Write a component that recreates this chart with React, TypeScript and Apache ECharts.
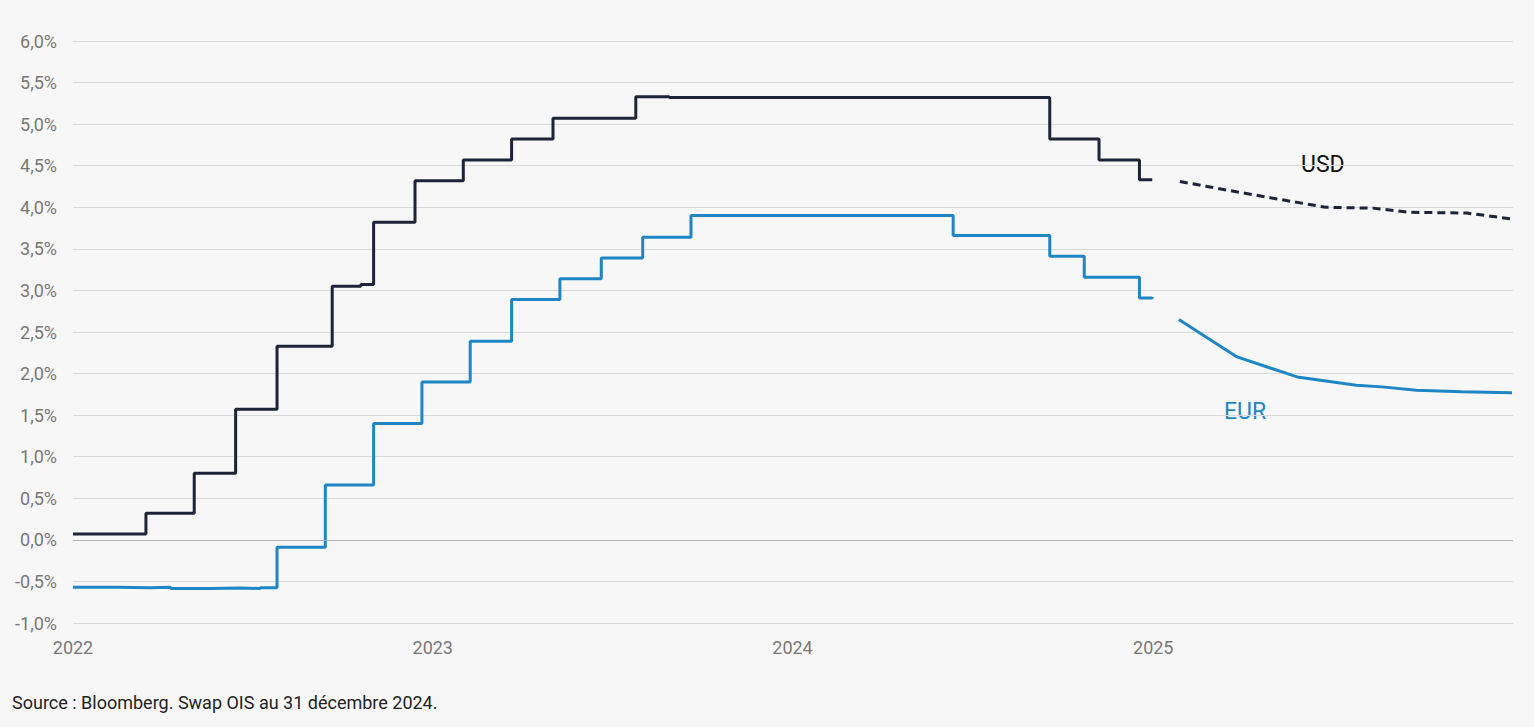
import React, { useEffect, useRef } from "react";
import * as echarts from "echarts";

// Historical policy-rate proxies (step changes), percent
const usdHistDates = [
  "2022-01-01", "2022-03-16", "2022-05-04", "2022-06-15", "2022-07-27", "2022-09-21",
  "2022-10-20", "2022-11-02", "2022-12-14", "2023-02-01", "2023-03-22", "2023-05-03",
  "2023-07-26", "2023-08-29", "2024-09-18", "2024-11-07", "2024-12-18", "2024-12-31",
];
const usdHistValues = [
  0.07, 0.32, 0.80, 1.57, 2.33, 3.05,
  3.07, 3.82, 4.32, 4.57, 4.82, 5.07,
  5.33, 5.32, 4.82, 4.57, 4.33, 4.33,
];

const eurHistDates = [
  "2022-01-01", "2022-02-15", "2022-03-20", "2022-04-10", "2022-05-20", "2022-06-20",
  "2022-07-10", "2022-07-27", "2022-09-14", "2022-11-02", "2022-12-21", "2023-02-08",
  "2023-03-22", "2023-05-10", "2023-06-21", "2023-08-02", "2023-09-20", "2024-06-12",
  "2024-09-18", "2024-10-23", "2024-12-18", "2024-12-31",
];
const eurHistValues = [
  -0.57, -0.575, -0.57, -0.585, -0.58, -0.585,
  -0.575, -0.09, 0.66, 1.40, 1.90, 2.39,
  2.89, 3.14, 3.39, 3.64, 3.90, 3.66,
  3.41, 3.16, 2.91, 2.92,
];

// OIS swap-implied forward path (from 31 Dec 2024)
const usdFwdDates = [
  "2025-01-28", "2025-03-20", "2025-05-07", "2025-06-25", "2025-08-12",
  "2025-09-17", "2025-11-15", "2025-12-31",
];
const usdFwdValues = [4.31, 4.20, 4.10, 4.00, 3.99, 3.94, 3.93, 3.86];

const eurFwdDates = [
  "2025-01-27", "2025-03-27", "2025-05-27", "2025-07-26", "2025-08-21",
  "2025-09-25", "2025-11-10", "2025-12-31",
];
const eurFwdValues = [2.65, 2.20, 1.96, 1.86, 1.84, 1.80, 1.78, 1.77];

const yearTicks = ["2022-01-01", "2023-01-01", "2024-01-01", "2025-01-01"];

const USD_COLOR = "#1e2438";
const EUR_COLOR = "#1f86c6";

const ts = (d: string) => {
  const [y, m, dd] = d.split("-").map(Number);
  return Date.UTC(y, m - 1, dd);
};
const zip = (ds: string[], vs: number[]) => ds.map((d, i) => [ts(d), vs[i]]);

export default function App() {
  const ref = useRef<HTMLDivElement>(null);
  useEffect(() => {
    if (!ref.current) return;
    const chart = echarts.init(ref.current, null, { renderer: "svg" });
    chart.setOption({
      animation: false,
      backgroundColor: "#f7f7f7",
      grid: { left: 73, right: 21, top: 41, bottom: 104, containLabel: false },
      xAxis: {
        type: "value",
        min: ts("2022-01-01"),
        max: ts("2026-01-01"),
        axisLine: { show: false, onZero: false },
        axisTick: { show: false },
        splitLine: { show: false },
        axisLabel: {
          customValues: yearTicks.map(ts),
          formatter: (v: number) => String(new Date(v).getUTCFullYear()),
          color: "#777777",
          fontFamily: "Roboto",
          fontSize: 18,
          margin: 15,
        },
      },
      yAxis: {
        type: "value",
        min: -1,
        max: 6,
        interval: 0.5,
        axisLine: { show: false },
        axisTick: { show: false },
        splitLine: { lineStyle: { color: "#d9d9d9", width: 1 } },
        axisLabel: {
          formatter: (v: number) => v.toFixed(1).replace(".", ",") + "%",
          color: "#777777",
          fontFamily: "Roboto",
          fontSize: 18,
          margin: 16,
        },
      },
      series: [
        {
          name: "USD hist",
          type: "line",
          step: "end",
          data: zip(usdHistDates, usdHistValues),
          showSymbol: false,
          lineStyle: { color: USD_COLOR, width: 3 },
          markLine: {
            silent: true,
            symbol: "none",
            label: { show: false },
            lineStyle: { color: "#b3b3b3", width: 1, type: "solid" },
            data: [{ yAxis: 0 }],
          },
          z: 3,
        },
        {
          name: "EUR hist",
          type: "line",
          step: "end",
          data: zip(eurHistDates, eurHistValues),
          showSymbol: false,
          lineStyle: { color: EUR_COLOR, width: 3 },
          z: 3,
        },
        {
          name: "USD fwd",
          type: "line",
          data: zip(usdFwdDates, usdFwdValues),
          showSymbol: false,
          lineStyle: { color: USD_COLOR, width: 3, type: [8, 5] },
          z: 3,
        },
        {
          name: "EUR fwd",
          type: "line",
          data: zip(eurFwdDates, eurFwdValues),
          showSymbol: false,
          lineStyle: { color: EUR_COLOR, width: 3 },
          z: 3,
        },
      ],
      graphic: [
        {
          type: "text",
          left: 1301,
          top: 153,
          style: { text: "USD", fill: "#111111", font: "23px Roboto" },
        },
        {
          type: "text",
          left: 1224,
          top: 400,
          style: { text: "EUR", fill: EUR_COLOR, font: "23px Roboto" },
        },
        {
          type: "text",
          left: 12,
          top: 693,
          style: {
            text: "Source : Bloomberg. Swap OIS au 31 décembre 2024.",
            fill: "#222222",
            font: "18px Roboto",
          },
        },
      ],
    });
    return () => chart.dispose();
  }, []);
  return (
    <div
      ref={ref}
      style={{ position: "fixed", left: 0, top: 0, width: 1534, height: 727, background: "#f7f7f7" }}
    />
  );
}
